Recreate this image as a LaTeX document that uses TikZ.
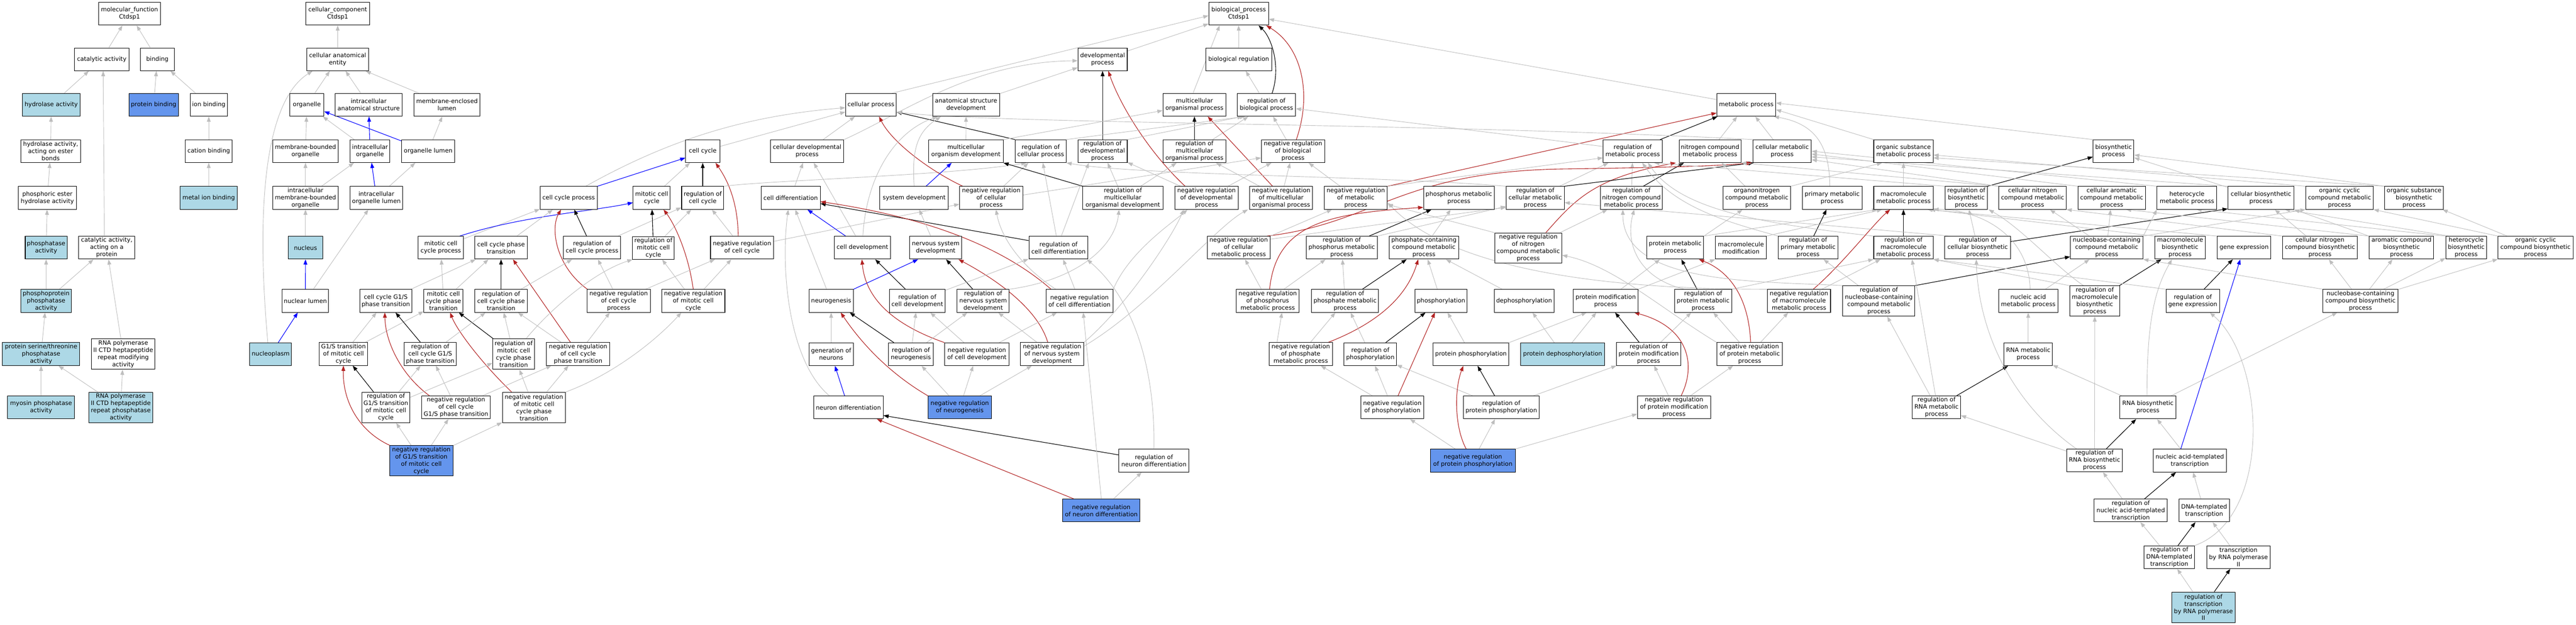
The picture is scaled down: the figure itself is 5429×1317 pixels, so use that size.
\documentclass[tikz,border=0pt]{standalone}
\usepackage{fontspec}
\setmainfont{DejaVu Sans}
\usetikzlibrary{arrows.meta}
\definecolor{egray}{RGB}{190,190,190}
\definecolor{ered}{RGB}{178,34,34}
\definecolor{eblue}{RGB}{0,0,255}
\definecolor{lblue}{RGB}{173,216,230}
\definecolor{cblue}{RGB}{100,149,237}
\pgfdeclarelayer{bglayer}
\pgfdeclarelayer{edgelayer}
\pgfsetlayers{bglayer,edgelayer,main}
\newcommand{\gofont}{\fontsize{12.6pt}{15.2pt}\selectfont}
\tikzset{
  box/.style={draw=black, line width=1.1pt, fill=white, inner sep=1pt, align=center, font=\gofont, minimum height=48pt},
  tall/.style={minimum height=64pt},
  lb/.style={fill=lblue},
  cb/.style={fill=cblue},
  mw/.style={minimum width=#1pt},
  eg/.style={draw=egray, line width=1pt, -{Triangle[length=11pt,width=8pt]}},
  ek/.style={draw=black, line width=1.2pt, -{Triangle[length=11pt,width=8pt]}},
  er/.style={draw=ered, line width=1.2pt, -{Triangle[length=11pt,width=8pt]}},
  eb/.style={draw=eblue, line width=1.2pt, -{Triangle[length=11pt,width=8pt]}},
}
\begin{document}
\begin{tikzpicture}[x=1pt,y=-1pt]
\begin{pgfonlayer}{bglayer}
\fill[white] (0,0) rectangle (5429,1317);
\end{pgfonlayer}
\useasboundingbox (0,0) rectangle (5429,1317);
% ===== molecular function =====
\node[box,mw=131] (mf) at (273,29) {molecular\_function\\Ctdsp1};
\node[box,mw=115] (catal) at (214.4,125) {catalytic activity};
\node[box,mw=72] (bind) at (331.6,125) {binding};
\node[box,lb,mw=122] (hydro) at (108,221) {hydrolase activity};
\node[box,cb,mw=104] (pbind) at (323.8,221) {protein binding};
\node[box,mw=78] (ionb) at (440,221) {ion binding};
\node[box,mw=126] (hydroest) at (106.8,318.5) {hydrolase activity,\\acting on ester\\bonds};
\node[box,mw=99] (cationb) at (440,318.5) {cation binding};
\node[box,mw=122] (phosest) at (99.9,417) {phosphoric ester\\hydrolase activity};
\node[box,lb,mw=120] (metalb) at (439.8,417) {metal ion binding};
\node[box,lb,mw=88] (phosact) at (97.2,522) {phosphatase\\activity};
\node[box,mw=118] (catprot) at (225,522) {catalytic activity,\\acting on a\\protein};
\node[box,lb,mw=107] (ppp) at (97.2,634) {phosphoprotein\\phosphatase\\activity};
\node[box,lb,mw=163] (serthr) at (86.6,746) {protein serine/threonine\\phosphatase\\activity};
\node[box,tall,mw=134] (ctdmod) at (259.7,746.4) {RNA polymerase\\II CTD heptapeptide\\repeat modifying\\activity};
\node[box,lb,mw=141] (myosin) at (86.6,858.6) {myosin phosphatase\\activity};
\node[box,lb,tall,mw=134] (ctdphos) at (254.5,858.6) {RNA polymerase\\II CTD heptapeptide\\repeat phosphatase\\activity};
% ===== cellular component =====
\node[box,mw=134] (cc) at (711.7,29) {cellular\_component\\Ctdsp1};
\node[box,mw=130] (cae) at (711.6,125) {cellular anatomical\\entity};
\node[box,mw=72] (organelle) at (646.7,221) {organelle};
\node[box,mw=141] (ias) at (777,221) {intracellular\\anatomical structure};
\node[box,mw=139] (mel) at (942,221) {membrane-enclosed\\lumen};
\node[box,mw=138] (mbo) at (643.8,318.5) {membrane-bounded\\organelle};
\node[box,mw=83] (io) at (779.8,318.5) {intracellular\\organelle};
\node[box,mw=112.6] (ol) at (902.4,318.5) {organelle lumen};
\node[box,mw=138] (imbo) at (643.8,417) {intracellular\\membrane-bounded\\organelle};
\node[box,mw=111] (iol) at (793.3,417) {intracellular\\organelle lumen};
\node[box,lb,mw=72] (nucleus) at (643.8,522) {nucleus};
\node[box,mw=98] (nlumen) at (643.5,634) {nuclear lumen};
\node[box,lb,mw=88] (nucleoplasm) at (570.5,746.4) {nucleoplasm};
% ===== cell cycle =====
\node[box,mw=72] (cellcycle) at (1481,318.6) {cell cycle};
\node[box,mw=120.6] (ccproc) at (1198.5,417) {cell cycle process};
\node[box,mw=78] (mcc) at (1373.4,417) {mitotic cell\\cycle};
\node[box,mw=89] (regcc) at (1481,417) {regulation of\\cell cycle};
\node[box,mw=95] (mccp) at (929,522) {mitotic cell\\cycle process};
\node[box,mw=110] (ccpt) at (1056,522) {cell cycle phase\\transition};
\node[box,mw=120] (regccp) at (1247.8,522) {regulation of\\cell cycle process};
\node[box,mw=88] (regmcc) at (1377,522.4) {regulation of\\mitotic cell\\cycle};
\node[box,mw=133] (negregcc) at (1563.8,522) {negative regulation\\of cell cycle};
\node[box,mw=110] (g1s) at (813,634) {cell cycle G1/S\\phase transition};
\node[box,mw=82] (mccpt) at (934.5,634) {mitotic cell\\cycle phase\\transition};
\node[box,mw=110] (regccpt) at (1056,634) {regulation of\\cell cycle phase\\transition};
\node[box,mw=133] (negregccp) at (1303.8,634) {negative regulation\\of cell cycle\\process};
\node[box,mw=133.4] (negregmcc) at (1461,634) {negative regulation\\of mitotic cell\\cycle};
\node[box,mw=101.6] (g1smit) at (723.8,746) {G1/S transition\\of mitotic cell\\cycle};
\node[box,mw=110] (regg1s) at (906.7,746) {regulation of\\cell cycle G1/S\\phase transition};
\node[box,tall,mw=88] (regmccpt) at (1082.5,746.4) {regulation of\\mitotic cell\\cycle phase\\transition};
\node[box,mw=132.8] (negregccpt) at (1218.4,746) {negative regulation\\of cell cycle\\phase transition};
\node[box,tall,mw=101.6] (regg1smit) at (813.2,858.6) {regulation of\\G1/S transition\\of mitotic cell\\cycle};
\node[box,mw=144] (negregg1s) at (961,858.4) {negative regulation\\of cell cycle\\G1/S phase transition};
\node[box,tall,mw=133] (negregmccpt) at (1125.2,858.6) {negative regulation\\of mitotic cell\\cycle phase\\transition};
\node[box,tall,cb,mw=133] (negregg1smit) at (888,970.8) {negative regulation\\of G1/S transition\\of mitotic cell\\cycle};
% ===== biological process: top =====
\node[box,mw=126] (bp) at (2610.5,29) {biological\_process\\Ctdsp1};
\node[box,mw=104] (devproc) at (2323.7,125) {developmental\\process};
\node[box,mw=138.5] (bioreg) at (2610.5,125) {biological regulation};
\node[box,mw=107] (cellproc) at (1835.6,221) {cellular process};
\node[box,mw=141.4] (asd) at (2036,221) {anatomical structure\\development};
\node[box,mw=133.3] (mop) at (2517.3,221) {multicellular\\organismal process};
\node[box,mw=123] (regbp) at (2669,221) {regulation of\\biological process};
\node[box,mw=124] (metab) at (3680.3,221) {metabolic process};
\node[box,mw=155] (cdp) at (1701,318.6) {cellular developmental\\process};
\node[box,mw=157] (mod) at (2035.7,318.6) {multicellular\\organism development};
\node[box,mw=107.3] (regcp) at (2193.3,318.6) {regulation of\\cellular process};
\node[box,mw=104] (regdp) at (2323.7,318.6) {regulation of\\developmental\\process};
\node[box,mw=133.3] (regmop) at (2517.3,318.6) {regulation of\\multicellular\\organismal process};
\node[box,mw=133.4] (negregbp) at (2725,318.6) {negative regulation\\of biological\\process};
\node[box,mw=124.7] (regmetab) at (3441,318.6) {regulation of\\metabolic process};
\node[box,mw=130.4] (ncmp) at (3603.8,318.6) {nitrogen compound\\metabolic process};
\node[box,mw=123] (cmp) at (3756,318.6) {cellular metabolic\\process};
\node[box,mw=125.2] (osmp) at (4011.6,318.6) {organic substance\\metabolic process};
\node[box,mw=86] (biosyn) at (4454.3,318.6) {biosynthetic\\process};
% row 4
\node[box,mw=124.6] (celldiff) at (1666.3,417) {cell differentiation};
\node[box,mw=144.3] (sysdev) at (1926.6,417) {system development};
\node[box,mw=133.3] (negregcp) at (2089,417) {negative regulation\\of cellular\\process};
\node[box,mw=168.6] (regmod) at (2366.4,417) {regulation of\\multicellular\\organismal development};
\node[box,mw=133.4] (negregdp) at (2542.7,417) {negative regulation\\of developmental\\process};
\node[box,mw=132.8] (negregmop) at (2700,417) {negative regulation\\of multicellular\\organismal process};
\node[box,mw=133.3] (negregmetab) at (2857.3,417) {negative regulation\\of metabolic\\process};
\node[box,mw=149] (phosmp) at (3074.6,417) {phosphorus metabolic\\process};
\node[box,mw=122.4] (regcmp) at (3235.6,417) {regulation of\\cellular metabolic\\process};
\node[box,mw=130.4] (regncmp) at (3438.2,417) {regulation of\\nitrogen compound\\metabolic process};
\node[box,mw=142] (onmp) at (3702.5,417) {organonitrogen\\compound metabolic\\process};
\node[box,mw=126] (pmp) at (3861.3,417) {primary metabolic\\process};
\node[box,mw=125.2] (mmp) at (4011.6,417) {macromolecule\\metabolic process};
\node[box,mw=89] (regbiosyn) at (4144,417) {regulation of\\biosynthetic\\process};
\node[box,mw=142] (cncmp) at (4283.7,417) {cellular nitrogen\\compound metabolic\\process};
\node[box,mw=142] (camp) at (4450.5,417) {cellular aromatic\\compound metabolic\\process};
\node[box,mw=125.7] (hmp) at (4609,417) {heterocycle\\metabolic process};
\node[box,mw=139] (cbp) at (4765,417) {cellular biosynthetic\\process};
\node[box,mw=142.4] (occmp) at (4930.6,417) {organic cyclic\\compound metabolic\\process};
\node[box,mw=123.4] (osbp) at (5087.7,417) {organic substance\\biosynthetic\\process};
% row 5
\node[box,mw=118] (celldev) at (1817.5,522) {cell development};
\node[box,mw=110] (nsd) at (1972,522) {nervous system\\development};
\node[box,mw=124.7] (regcd) at (2230.8,522) {regulation of\\cell differentiation};
\node[box,mw=132.7] (negregcmp) at (2610.5,522) {negative regulation\\of cellular\\metabolic process};
\node[box,mw=149.5] (regphosmp) at (2827.8,522) {regulation of\\phosphorus metabolic\\process};
\node[box,mw=146] (pccmp) at (3001,522) {phosphate-containing\\compound metabolic\\process};
\node[box,tall,mw=141.4] (negregncmp) at (3220.9,522.8) {negative regulation\\of nitrogen\\compound metabolic\\process};
\node[box,mw=120] (protmp) at (3530.5,522) {protein metabolic\\process};
\node[box,mw=107.3] (macmod) at (3669,522) {macromolecule\\modification};
\node[box,mw=125.8] (regpmp) at (3810.5,522) {regulation of\\primary metabolic\\process};
\node[box,mw=125.2] (regmmp) at (4011.6,522) {regulation of\\macromolecule\\metabolic process};
\node[box,mw=139] (regcbp) at (4168,522) {regulation of\\cellular biosynthetic\\process};
\node[box,mw=153] (nccmp) at (4439.9,522) {nucleobase-containing\\compound metabolic\\process};
\node[box,mw=106.7] (mbp) at (4594.5,522) {macromolecule\\biosynthetic\\process};
\node[box,mw=112.4] (geneexp) at (4729.4,522) {gene expression};
\node[box,mw=158] (cncbp) at (4889.4,522) {cellular nitrogen\\compound biosynthetic\\process};
\node[box,mw=136] (acbp) at (5061.2,522) {aromatic compound\\biosynthetic\\process};
\node[box,mw=86] (hbp) at (5197.5,522) {heterocycle\\biosynthetic\\process};
\node[box,mw=158] (occbp) at (5343.7,522) {organic cyclic\\compound biosynthetic\\process};
% row 6
\node[box,mw=93.5] (neurogenesis) at (1751.7,634) {neurogenesis};
\node[box,mw=117] (regcelldev) at (1933.2,634) {regulation of\\cell development};
\node[box,mw=110] (regnsd) at (2072,634) {regulation of\\nervous system\\development};
\node[box,mw=141.4] (negregcd) at (2275,634) {negative regulation\\of cell differentiation};
\node[box,mw=132.8] (negregphosmp) at (2671.7,634) {negative regulation\\of phosphorus\\metabolic process};
\node[box,mw=141.4] (regphatemp) at (2834.8,634) {regulation of\\phosphate metabolic\\process};
\node[box,mw=109.7] (phosph) at (3037,634) {phosphorylation};
\node[box,mw=125.8] (dephos) at (3212,634) {dephosphorylation};
\node[box,mw=136.2] (protmod) at (3384,634) {protein modification\\process};
\node[box,mw=120] (regprotmp) at (3589.4,634) {regulation of\\protein metabolic\\process};
\node[box,mw=132.8] (negregmmp) at (3791.4,634) {negative regulation\\of macromolecule\\metabolic process};
\node[box,tall,mw=151.8] (regnccmp) at (3959.7,634.3) {regulation of\\nucleobase-containing\\compound metabolic\\process};
\node[box,mw=124.6] (namp) at (4274.5,634) {nucleic acid\\metabolic process};
\node[box,tall,mw=106] (regmbp) at (4414.8,634.3) {regulation of\\macromolecule\\biosynthetic\\process};
\node[box,mw=113] (reggeneexp) at (4621.3,634) {regulation of\\gene expression};
\node[box,mw=158] (nccbp) at (4974.7,634) {nucleobase-containing\\compound biosynthetic\\process};
% row 7
\node[box,mw=93.5] (genneur) at (1751.7,746.4) {generation of\\neurons};
\node[box,mw=93.5] (regneurog) at (1919.7,746.4) {regulation of\\neurogenesis};
\node[box,mw=136.2] (negregcelldev) at (2058.8,746.4) {negative regulation\\of cell development};
\node[box,mw=133.4] (negregnsd) at (2217.2,746) {negative regulation\\of nervous system\\development};
\node[box,mw=133.3] (negregphatemp) at (2741.3,746) {negative regulation\\of phosphate\\metabolic process};
\node[box,mw=110.3] (regphosph) at (2887.9,746.4) {regulation of\\phosphorylation};
\node[box,mw=160.5] (protphos) at (3100,746.4) {protein phosphorylation};
\node[box,lb,mw=176.6] (protdephos) at (3293.3,746.4) {protein dephosphorylation};
\node[box,mw=136.2] (regprotmod) at (3474.5,746) {regulation of\\protein modification\\process};
\node[box,mw=138.5] (negregprotmp) at (3687.5,746) {negative regulation\\of protein metabolic\\process};
\node[box,mw=101.6] (rnamp) at (4274.5,746.4) {RNA metabolic\\process};
% row 8
\node[box,mw=146.6] (neurdiff) at (1788,858.6) {neuron differentiation};
\node[box,cb,mw=133.3] (negregneurog) at (2022.7,858.6) {negative regulation\\of neurogenesis};
\node[box,mw=132.7] (negregphosph) at (2934.3,858.6) {negative regulation\\of phosphorylation};
\node[box,mw=160.5] (regprotphos) at (3164,858.6) {regulation of\\protein phosphorylation};
\node[box,mw=154] (negregprotmod) at (3528,858.4) {negative regulation\\of protein modification\\process};
\node[box,mw=101.6] (regrnamp) at (4081.2,858.4) {regulation of\\RNA metabolic\\process};
\node[box,mw=117.7] (rnabp) at (4526.7,858.6) {RNA biosynthetic\\process};
% row 9
\node[box,mw=147.2] (regneurdiff) at (2431.9,970.6) {regulation of\\neuron differentiation};
\node[box,cb,mw=179] (negregprotphos) at (3104,970.6) {negative regulation\\of protein phosphorylation};
\node[box,mw=117.7] (regrnabp) at (4414.2,970.4) {regulation of\\RNA biosynthetic\\process};
\node[box,mw=154.5] (natt) at (4615,970.6) {nucleic acid-templated\\transcription};
% row 10+
\node[box,cb,mw=163.4] (negregneurdiff) at (2321,1075.8) {negative regulation\\of neuron differentiation};
\node[box,mw=154] (regnatt) at (4490.6,1075.8) {regulation of\\nucleic acid-templated\\transcription};
\node[box,mw=106.6] (dnatt) at (4645.2,1075.8) {DNA-templated\\transcription};
\node[box,mw=106] (regdnatt) at (4571.7,1174.3) {regulation of\\DNA-templated\\transcription};
\node[box,mw=133.7] (trpol2) at (4717.5,1174.3) {transcription\\by RNA polymerase\\II};
\node[box,lb,tall,mw=133.7] (regtrpol2) at (4643.8,1279.7) {regulation of\\transcription\\by RNA polymerase\\II};

\begin{pgfonlayer}{edgelayer}
% MF
\draw[eg] (catal) -- (mf);
\draw[eg] (bind) -- (mf);
\draw[eg] (hydro) -- (catal);
\draw[eg] ([xshift=-5pt]catprot.north) -- ([xshift=3pt]catal.south);
\draw[eg] (pbind) -- (bind);
\draw[eg] (ionb) -- (bind);
\draw[eg] (hydroest) -- (hydro);
\draw[eg] (cationb) -- (ionb);
\draw[eg] (phosest) -- (hydroest);
\draw[eg] (metalb) -- (cationb);
\draw[eg] (phosact) -- (phosest);
\draw[eg] (ppp) -- (phosact);
\draw[eg] (ppp) -- (catprot);
\draw[eg] (ctdmod) -- (catprot);
\draw[eg] (serthr) -- (ppp);
\draw[eg] (myosin) -- (serthr);
\draw[eg] (ctdphos) -- (serthr);
\draw[eg] (ctdphos) -- (ctdmod);
% CC
\draw[eg] (cae) -- (cc);
\draw[eg] (organelle) -- (cae);
\draw[eg] (ias) -- (cae);
\draw[eg] (mel) -- (cae);
\draw[eg] ([xshift=-6pt]nucleoplasm.north) .. controls (540,450) and (555,215) .. ([xshift=-53pt]cae.south);
\draw[eg] (mbo) -- (organelle);
\draw[eg] (io) -- (organelle);
\draw[eb] (io) -- (ias);
\draw[eb] (ol) -- (organelle);
\draw[eg] (ol) -- (mel);
\draw[eg] (imbo) -- (mbo);
\draw[eg] (imbo) -- (io);
\draw[eb] (iol) -- (io);
\draw[eg] (iol) -- (ol);
\draw[eg] (nucleus) -- (imbo);
\draw[eb] (nlumen) -- (nucleus);
\draw[eg] (nlumen) -- (iol);
\draw[eb] (nucleoplasm) -- (nlumen);
% cell cycle
\draw[eg] (cellcycle) -- (cellproc);
\draw[eg] ([xshift=36pt]ccproc.north) .. controls (1400,300) and (1560,245) .. ([yshift=-6pt]cellproc.west);
\draw[eb] (ccproc.north east) -- ([yshift=-14pt]cellcycle.west);
\draw[eg] (mcc) -- (cellcycle);
\draw[ek] (regcc) -- (cellcycle);
\draw[er] ([xshift=-8pt]negregcc.north) .. controls (1555,420) and (1530,375) .. ([xshift=27pt]cellcycle.south);
\draw[eg] (regcc.north east) .. controls (1620,380) and (2000,370) .. ([xshift=-30pt]regcp.south);
\draw[eg] (mccp) -- (ccproc);
\draw[eb] ([xshift=40pt]mccp.north) .. controls (1100,455) and (1250,445) .. ([yshift=-10pt]mcc.west);
\draw[eg] (ccpt) -- (ccproc);
\draw[ek] (regccp) -- (ccproc);
\draw[er] ([xshift=-66pt]negregccp.north) .. controls (1170,560) and (1160,480) .. ([xshift=-16pt]ccproc.south);
\draw[eg] (regccp) -- (regcc);
\draw[ek] (regmcc) -- (mcc);
\draw[eg] (regmcc) -- (regcc);
\draw[er] (negregmcc.north) .. controls (1450,530) and (1420,470) .. ([xshift=25pt]mcc.south);
\draw[eg] (negregcc) -- (regcc);
\draw[eg] (negregcc) -- (negregcp);
\draw[eg] (mccpt) -- (mccp);
\draw[eg] (mccpt) -- (ccpt);
\draw[eg] (g1s) -- (ccpt);
\draw[ek] (regccpt) -- (ccpt);
\draw[er] ([xshift=-16pt]negregccpt.north) -- ([xshift=25pt]ccpt.south);
\draw[eg] (regccpt) -- (regccp);
\draw[eg] (negregccp) -- (regccp);
\draw[eg] (negregccp) -- (negregcc);
\draw[eg] (negregmcc) -- (regmcc);
\draw[eg] (negregmcc) -- (negregcc);
\draw[eg] ([xshift=26pt]regmccpt.north) .. controls (1170,640) and (1260,570) .. ([xshift=-44pt]regmcc.south);
\draw[ek] (regmccpt) -- (mccpt);
\draw[eg] (regmccpt) -- (regccpt);
\draw[eg] (negregccpt) -- (regccpt);
\draw[eg] (negregccpt) -- (negregccp);
\draw[er] ([xshift=-47pt]negregmccpt.north) .. controls (1020,770) and (965,700) .. ([xshift=14pt]mccpt.south);
\draw[eg] (negregmccpt) -- (regmccpt);
\draw[eg] (negregmccpt) -- (negregccpt);
\draw[eg] (negregmccpt.north east) .. controls (1290,790) and (1380,720) .. ([xshift=-25pt]negregmcc.south);
\draw[eg] (g1smit) -- (g1s);
\draw[eg] (g1smit) -- (mccpt);
\draw[ek] (regg1s) -- (g1s);
\draw[eg] (regg1s) -- (regccpt);
\draw[er] ([xshift=-56pt]negregg1s.north) .. controls (845,790) and (812,720) .. ([xshift=-2pt]g1s.south);
\draw[eg] (negregg1s) -- (regg1s);
\draw[eg] (negregg1s) -- (negregccpt);
\draw[ek] (regg1smit) -- (g1smit);
\draw[eg] (regg1smit) -- (regg1s);
\draw[eg] (regg1smit) -- (regmccpt);
\draw[er] (negregg1smit.north west) .. controls (760,910) and (722,850) .. (g1smit.south);
\draw[eg] (negregg1smit) -- (regg1smit);
\draw[eg] (negregg1smit) -- (negregg1s);
\draw[eg] (negregg1smit) -- (negregmccpt);
% BP top
\draw[eg] ([xshift=-10pt]cellproc.north east) -- ([yshift=-4pt]bp.west);
\draw[eg] (devproc) -- (bp);
\draw[eg] ([xshift=-3pt]mop.north) -- ([xshift=-40pt]bp.south);
\draw[eg] (bioreg) -- (bp);
\draw[ek] ([xshift=12pt]regbp.north) .. controls (2700,140) and (2680,80) .. ([xshift=42pt]bp.south);
\draw[er] ([xshift=7pt]negregbp.north) .. controls (2765,200) and (2745,100) .. ([xshift=58pt]bp.south);
\draw[eg] (metab) -- (bp);
\draw[eg] (regbp) -- (bioreg);
\draw[eg] (asd) -- (devproc);
\draw[eg] (cdp.north east) .. controls (1900,240) and (2050,130) .. ([yshift=-3pt]devproc.west);
\draw[eg] (cdp) -- (cellproc);
\draw[ek] (regdp) -- (devproc);
\draw[er] ([xshift=-45pt]negregdp.north) .. controls (2420,320) and (2360,220) .. ([xshift=12pt]devproc.south);
\draw[er] ([xshift=-60pt]negregcp.north) .. controls (1960,360) and (1880,300) .. ([xshift=17pt]cellproc.south);
\draw[ek] (regcp.north west) -- ([yshift=-15pt]cellproc.east);
\draw[eg] (regcp.north east) -- ([xshift=-45pt]regbp.south);
\draw[ek] (regmop) -- (mop);
\draw[eg] (regmop) -- (regbp);
\draw[er] ([xshift=-18pt]negregmop.north) -- ([xshift=28pt]mop.south);
\draw[eg] (mod.north east) -- ([yshift=-12pt]mop.west);
\draw[eg] (mod) -- (asd);
\draw[eg] (regdp.north east) -- ([xshift=-50pt]regbp.south);
\draw[eg] (negregbp) -- (regbp);
\draw[eb] ([xshift=25pt]sysdev.north) -- ([xshift=-30pt]mod.south);
\draw[eg] (sysdev.north) .. controls (1922,320) and (1930,280) .. ([xshift=-53pt]asd.south);
\draw[eg] ([xshift=1pt]celldev.north) .. controls (1825,380) and (1880,280) .. ([xshift=-60pt]asd.south);
\draw[eg] (negregcp) -- (regcp);
\draw[eg] ([yshift=6pt]negregcp.east) -- ([yshift=-14pt]negregbp.west);
\draw[ek] (regmod.north west) -- (mod.south east);
\draw[eg] (regmod) -- (regmop);
\draw[eg] (regmod) -- (regdp);
\draw[eg] (negregdp) -- (regdp);
\draw[eg] (negregdp) -- (negregbp);
\draw[eg] (negregmop) -- (regmop);
\draw[eg] (negregmop) -- (negregbp);
% development
\draw[eg] (celldiff) -- (cdp);
\draw[eg] (celldev) -- (cdp);
\draw[eb] (celldev) -- (celldiff);
\draw[ek] ([yshift=15pt]regcd.west) -- ([yshift=-12pt]celldiff.east);
\draw[er] ([xshift=-60pt]negregcd.north) .. controls (2090,500) and (1900,450) .. ([yshift=-8pt]celldiff.east);
\draw[eg] ([xshift=-40pt]neurdiff.north) .. controls (1660,760) and (1645,560) .. ([xshift=-5pt]celldiff.south);
\draw[eg] (neurogenesis) -- (celldiff);
\draw[eb] (neurogenesis.north east) -- ([xshift=-37pt]nsd.south);
\draw[eg] (genneur) -- (neurogenesis);
\draw[eb] (neurdiff) -- (genneur);
\draw[ek] ([xshift=-36pt]regneurog.north) -- ([xshift=39pt]neurogenesis.south);
\draw[er] (negregneurog.north west) .. controls (1880,790) and (1820,730) .. ([xshift=20pt]neurogenesis.south);
\draw[ek] ([xshift=-25pt]regcelldev.north) -- ([xshift=27pt]celldev.south);
\draw[er] (negregcelldev.north west) .. controls (1900,690) and (1825,640) .. ([xshift=-1pt]celldev.south);
\draw[eg] (nsd) -- (sysdev);
\draw[ek] (regnsd) -- (nsd);
\draw[er] ([xshift=-9pt]negregnsd.north) .. controls (2190,660) and (2120,600) .. ([xshift=48pt]nsd.south);
\draw[eg] (regcelldev) -- (regcd);
\draw[eg] (negregcd) -- (regcd);
\draw[eg] (regneurdiff.north) .. controls (2435,800) and (2400,640) .. ([xshift=60pt]regcd.south);
\draw[eg] (regcd) -- (regcp);
\draw[eg] ([xshift=6pt]regcd.north) -- ([xshift=-29pt]regdp.south);
\draw[eg] (negregcd.north east) .. controls (2380,530) and (2470,470) .. ([xshift=-40pt]negregdp.south);
\draw[eg] ([xshift=-50pt]negregcd.north) .. controls (2150,560) and (2110,500) .. ([xshift=10pt]negregcp.south);
\draw[eg] (regnsd.north east) .. controls (2270,590) and (2350,520) .. ([xshift=-8pt]regmod.south);
\draw[eg] (regneurog) -- (regcelldev);
\draw[eg] (regneurog) -- (regnsd);
\draw[eg] (negregcelldev) -- (regcelldev);
\draw[eg] (negregcelldev) -- (negregcd);
\draw[eg] (negregnsd) -- (regnsd);
\draw[eg] (negregnsd.north east) .. controls (2370,650) and (2470,500) .. ([xshift=-48pt]negregdp.south);
\draw[eg] ([yshift=-8pt]negregnsd.north east) .. controls (2420,650) and (2560,480) .. ([xshift=-70pt]negregmop.south);
\draw[eg] (negregneurog) -- (regneurog);
\draw[eg] (negregneurog) -- (negregcelldev);
\draw[eg] (negregneurog) -- (negregnsd);
\draw[ek] ([yshift=12pt]regneurdiff.west) -- ([yshift=-17pt]neurdiff.east);
\draw[er] ([xshift=-58pt]negregneurdiff.north) -- ([xshift=60pt]neurdiff.south);
\draw[eg] (negregneurdiff) -- (regneurdiff);
\draw[eg] (negregneurdiff.north) -- ([xshift=8pt]negregcd.south);
% metabolism
\draw[er] (negregmetab.north east) -- ([yshift=-17pt]metab.west);
\draw[ek] ([xshift=-5pt]regmetab.north east) -- ([xshift=2pt]metab.south west);
\draw[eg] ([yshift=10pt]regmetab.west) -- ([yshift=-8pt]regbp.east);
\draw[eg] (cmp.north west) .. controls (3000,258) and (2100,262) .. ([yshift=-15pt]cellproc.east);
\draw[eg] (regcmp.north west) .. controls (2900,370) and (2400,370) .. (regcp.south east);
\draw[eg] (negregmetab) -- (negregbp);
\draw[eg] (negregmetab.north east) -- ([yshift=-14pt]regmetab.west);
\draw[eg] (regcmp) -- (regmetab);
\draw[eg] (regncmp) -- (regmetab);
\draw[ek] ([xshift=25pt]regncmp.north) -- ([xshift=-55pt]ncmp.south);
\draw[er] ([xshift=37pt]negregncmp.north) .. controls (3320,420) and (3360,375) .. ([xshift=-72pt]ncmp.south);
\draw[ek] (regcmp.north east) -- ([xshift=-60pt]cmp.south);
\draw[er] ([xshift=60pt]negregcmp.north) .. controls (2900,470) and (2950,360) .. (3300,356) .. controls (3500,353) and (3620,350) .. ([xshift=-64pt]cmp.south);
\draw[eg] (negregcmp.north east) -- ([xshift=-50pt]negregmetab.south);
\draw[eg] ([yshift=18pt]negregcmp.east) -- ([yshift=-20pt]regcmp.west);
\draw[ek] (regphosmp) -- (phosmp);
\draw[eg] (regphosmp.north east) -- ([yshift=-18pt]regcmp.west);
\draw[eg] (pccmp) -- (phosmp);
\draw[eg] (negregncmp.north west) -- ([yshift=-14pt]negregmetab.east);
\draw[eg] (negregncmp) -- (regncmp);
\draw[eg] (protmp.north east) -- ([xshift=-30pt]onmp.south);
\draw[eg] (protmp.north east) -- ([xshift=-55pt]mmp.south);
\draw[eg] (macmod.north east) -- ([xshift=-45pt]mmp.south);
\draw[eg] (protmod) -- (protmp);
\draw[eg] (protmod.north east) -- (macmod.south west);
\draw[ek] (regprotmp) -- (protmp);
\draw[eg] ([xshift=-40pt]regprotmp.north) .. controls (3450,585) and (3425,510) .. ([xshift=6pt]regncmp.south);
\draw[eg] (regprotmp.north east) -- (regmmp.south west);
\draw[er] ([xshift=2pt]negregprotmp.north) .. controls (3685,620) and (3640,570) .. ([xshift=50pt]protmp.south);
\draw[eg] (negregprotmp) -- (regprotmp);
\draw[eg] (negregprotmp) -- (negregmmp);
\draw[eg] (negregprotmp.north west) .. controls (3500,650) and (3400,560) .. ([yshift=-15pt]negregncmp.east);
\draw[ek] (regpmp) -- (pmp);
\draw[eg] (regpmp.north west) .. controls (3650,470) and (3530,440) .. ([xshift=20pt]regmetab.south);
\draw[ek] (regmmp) -- (mmp);
\draw[eg] (regmmp.north west) .. controls (3700,470) and (3540,440) .. ([xshift=32pt]regmetab.south);
\draw[er] ([xshift=30pt]negregmmp.north) .. controls (3880,560) and (3950,470) .. ([xshift=-28pt]mmp.south);
\draw[eg] (negregmmp) -- (regmmp);
\draw[eg] (negregmmp.north west) .. controls (3350,610) and (3050,560) .. ([yshift=-10pt]negregmetab.east);
\draw[ek] (regnccmp.north east) -- ([yshift=-19pt]nccmp.west);
\draw[eg] (regnccmp) -- (regpmp);
\draw[eg] (regnccmp.north west) .. controls (3700,592) and (3420,600) .. ([xshift=-18pt]regncmp.south);
\draw[ek] (regmbp) -- (mbp);
\draw[eg] ([xshift=-24pt]regmbp.north) .. controls (4330,560) and (4260,480) .. ([xshift=47pt]regbiosyn.south);
\draw[eg] (regmbp.north west) -- (regmmp.south east);
\draw[ek] ([yshift=13pt]regcbp.east) -- ([yshift=-23pt]cbp.west);
\draw[eg] (regcbp) -- (regbiosyn);
\draw[eg] ([xshift=-58pt]regcbp.north) -- ([yshift=-10pt]regcmp.east);
\draw[ek] (regbiosyn.north east) -- ([yshift=-12pt]biosyn.west);
\draw[eg] (regbiosyn.north west) -- ([xshift=45pt]regmetab.south);
\draw[eg] (nccmp) -- (cncmp);
\draw[eg] (nccmp) -- (camp);
\draw[eg] (nccmp.north east) -- (hmp.south west);
\draw[eg] (nccmp.north east) -- (occmp.south west);
\draw[eg] (namp) -- (nccmp);
\draw[eg] ([xshift=4pt]namp.north) .. controls (4275,480) and (4150,440) .. (mmp.south east);
\draw[eg] (rnamp) -- (namp);
\draw[ek] (regrnamp) -- (rnamp);
\draw[eg] (regrnamp) -- (regnccmp);
\draw[eg] ([xshift=-2pt]regrnamp.north) -- ([xshift=18pt]regmmp.south);
\draw[eg] (rnabp) -- (rnamp);
\draw[eg] ([xshift=-2pt]rnabp.north) .. controls (4525,700) and (4535,620) .. ([xshift=-17pt]mbp.south);
\draw[eg] (rnabp) -- (nccbp);
\draw[eg] (regrnabp) -- (regrnamp);
\draw[ek] (regrnabp) -- (rnabp);
\draw[eg] (regrnabp) -- (regmbp);
\draw[eg] ([xshift=-38pt]regrnabp.north) .. controls (4240,850) and (4170,700) .. ([xshift=-3pt]regcbp.south);
\draw[eg] (regnatt) -- (regrnabp);
\draw[ek] (regnatt) -- (natt);
\draw[eg] (natt) -- (rnabp);
\draw[eb] ([xshift=-19pt]natt.north) -- ([xshift=-8pt]geneexp.south);
\draw[eg] (dnatt) -- (natt);
\draw[ek] (regdnatt) -- (dnatt);
\draw[eg] (regdnatt) -- (regnatt);
\draw[eg] (regdnatt.north east) .. controls (4790,1090) and (4775,760) .. ([xshift=36pt]reggeneexp.south);
\draw[eg] (trpol2) -- (dnatt);
\draw[eg] (regtrpol2) -- (regdnatt);
\draw[ek] (regtrpol2) -- (trpol2);
\draw[ek] (reggeneexp) -- (geneexp);
\draw[eg] (reggeneexp.north west) -- (regmmp.south east);
\draw[eg] (geneexp.north west) -- ([xshift=50pt]mmp.south);
\draw[eg] (mbp.north west) -- ([xshift=56pt]mmp.south);
\draw[eg] (cbp) -- (biosyn);
\draw[eg] (cbp.north west) -- ([yshift=-12pt]cmp.east);
\draw[eg] (cncmp.north west) -- ([yshift=-18pt]cmp.east);
\draw[eg] (camp.north west) -- ([yshift=-6pt]cmp.east);
\draw[eg] (hmp.north west) -- (cmp.east);
\draw[eg] (cncmp.north west) -- (ncmp.south east);
\draw[eg] (onmp) -- (ncmp);
\draw[eg] (onmp.north east) -- ([xshift=-45pt]osmp.south);
\draw[eg] (mmp) -- (osmp);
\draw[eg] (occmp.north west) -- ([yshift=-8pt]osmp.east);
\draw[eg] (osbp.north west) -- ([yshift=-14pt]osmp.east);
\draw[eg] (osbp.north west) -- ([yshift=-8pt]biosyn.east);
\draw[eg] ([xshift=-5pt]pmp.north) .. controls (3856,300) and (3820,260) .. ([xshift=58pt]metab.south);
\draw[eg] (ncmp) -- (metab);
\draw[eg] (cmp) -- (metab);
\draw[eg] (osmp.north west) -- ([yshift=-10pt]metab.east);
\draw[eg] (biosyn.north west) -- ([yshift=4pt]metab.east);
\draw[eg] (cncbp.north west) -- (cncmp.south east);
\draw[eg] (cncbp) -- (cbp);
\draw[eg] (acbp.north west) -- ([xshift=30pt]camp.south);
\draw[eg] (acbp.north west) -- (cbp.south east);
\draw[eg] (hbp.north west) -- ([xshift=20pt]hmp.south);
\draw[eg] ([xshift=8pt]hbp.north west) -- ([xshift=-20pt]cbp.south east);
\draw[eg] (occbp.north west) -- (occmp.south east);
\draw[eg] (occbp) -- (osbp);
\draw[eg] (nccbp) -- (cncbp);
\draw[eg] (nccbp) -- (acbp);
\draw[eg] (nccbp) -- (hbp);
\draw[eg] (nccbp) -- (occbp);
\draw[eg] (nccbp.north west) -- (nccmp.south east);
% phosphate / protein
\draw[eg] (regphatemp) -- (regphosmp);
\draw[ek] (regphatemp) -- (pccmp);
\draw[eg] (negregphosmp) -- (regphosmp);
\draw[eg] (negregphosmp) -- (negregcmp);
\draw[er] ([xshift=4pt]negregphosmp.north) .. controls (2690,470) and (2800,450) .. ([yshift=-20pt]phosmp.west);
\draw[eg] ([xshift=-50pt]negregphatemp.north) -- ([xshift=30pt]negregphosmp.south);
\draw[eg] (negregphatemp) -- (regphatemp);
\draw[er] ([xshift=58pt]negregphatemp.north) .. controls (2880,690) and (2960,640) .. ([xshift=-12pt]pccmp.south);
\draw[eg] (phosph) -- (pccmp);
\draw[eg] (dephos) -- (pccmp);
\draw[eg] (regphosph) -- (regphatemp);
\draw[ek] (regphosph) -- (phosph);
\draw[eg] (protphos) -- (phosph);
\draw[eg] (protphos.north east) -- ([xshift=-40pt]protmod.south);
\draw[eg] (protdephos) -- (dephos);
\draw[eg] (protdephos) -- (protmod);
\draw[ek] (regprotmod) -- (protmod);
\draw[eg] (regprotmod) -- (regprotmp);
\draw[eg] (negregphosph) -- (negregphatemp);
\draw[eg] (negregphosph) -- (regphosph);
\draw[er] ([xshift=12pt]negregphosph.north) -- ([xshift=-13pt]phosph.south);
\draw[ek] (regprotphos) -- (protphos);
\draw[eg] (regprotphos) -- (regphosph);
\draw[eg] (regprotphos) -- (regprotmod);
\draw[eg] (negregprotmod) -- (regprotmod);
\draw[er] ([xshift=15pt]negregprotmod.north) .. controls (3575,770) and (3560,690) .. ([xshift=60pt]protmod.south);
\draw[eg] (negregprotmod) -- (negregprotmp);
\draw[eg] (negregprotphos) -- (negregphosph);
\draw[eg] (negregprotphos) -- (regprotphos);
\draw[eg] (negregprotphos.north east) -- ([yshift=-14pt]negregprotmod.west);
\draw[er] ([xshift=-14pt]negregprotphos.north) .. controls (3065,900) and (3065,820) .. ([xshift=-16pt]protphos.south);
\end{pgfonlayer}
\end{tikzpicture}
\end{document}
